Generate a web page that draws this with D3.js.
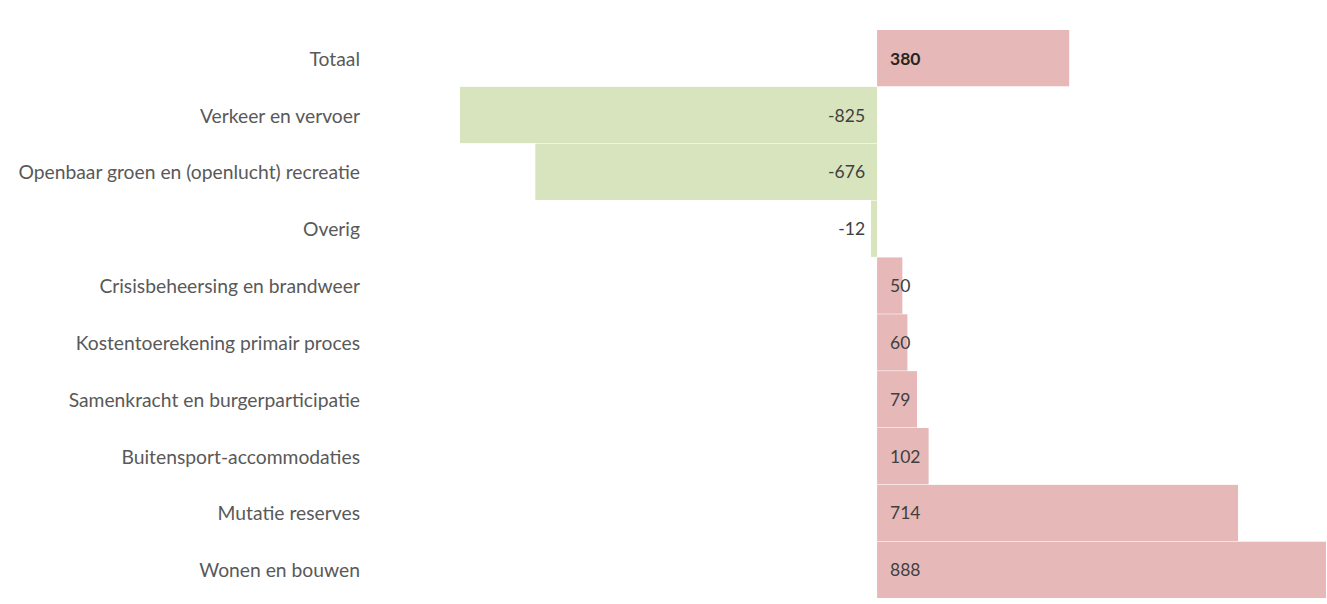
<!DOCTYPE html>
<html>
<head>
<meta charset="utf-8">
<script src="https://cdn.jsdelivr.net/npm/d3@7"></script>
<style>
  html, body { margin: 0; padding: 0; background: #ffffff; }
  svg { display: block; }
</style>
</head>
<body>
<svg id="chart" width="1327" height="604"></svg>
<script>
// Begrotingsmutaties per taakveld (x € 1.000)
const categories = [
  "Totaal",
  "Verkeer en vervoer",
  "Openbaar groen en (openlucht) recreatie",
  "Overig",
  "Crisisbeheersing en brandweer",
  "Kostentoerekening primair proces",
  "Samenkracht en burgerparticipatie",
  "Buitensport-accommodaties",
  "Mutatie reserves",
  "Wonen en bouwen"
];
const values = [380, -825, -676, -12, 50, 60, 79, 102, 714, 888];

const svg = d3.select("#chart");

const x = d3.scaleLinear()
  .domain([d3.min(values), d3.max(values)])
  .range([460, 1326]);

const y = d3.scaleBand()
  .domain(categories)
  .range([30, 598])
  .paddingInner(0.01);

const rows = categories.map((c, i) => ({ cat: c, val: values[i] }));

// bars
svg.append("g")
  .selectAll("rect")
  .data(rows)
  .join("rect")
  .attr("x", d => x(Math.min(0, d.val)))
  .attr("y", d => y(d.cat))
  .attr("width", d => Math.abs(x(d.val) - x(0)))
  .attr("height", y.bandwidth())
  .attr("fill", d => d.val < 0 ? "#d7e4bd" : "#e6b9b8");

// category labels
svg.append("g")
  .selectAll("text")
  .data(rows)
  .join("text")
  .attr("x", 360)
  .attr("y", d => y(d.cat) + y.bandwidth() / 2)
  .attr("text-anchor", "end")
  .attr("dominant-baseline", "central")
  .attr("font-family", "Lato, 'Open Sans', sans-serif")
  .attr("font-size", "19.3px")
  .attr("fill", "#595959")
  .text(d => d.cat);

// value labels
svg.append("g")
  .selectAll("text")
  .data(rows)
  .join("text")
  .attr("x", d => d.val < 0 ? x(0) - 12 : x(0) + 13)
  .attr("y", d => y(d.cat) + y.bandwidth() / 2)
  .attr("text-anchor", d => d.val < 0 ? "end" : "start")
  .attr("dominant-baseline", "central")
  .attr("font-family", "Lato, 'Open Sans', sans-serif")
  .attr("font-size", "17.5px")
  .attr("font-weight", (d, i) => i === 0 ? 700 : 400)
  .attr("fill", (d, i) => i === 0 ? "#262626" : "#404040")
  .text(d => d.val);
</script>
</body>
</html>
